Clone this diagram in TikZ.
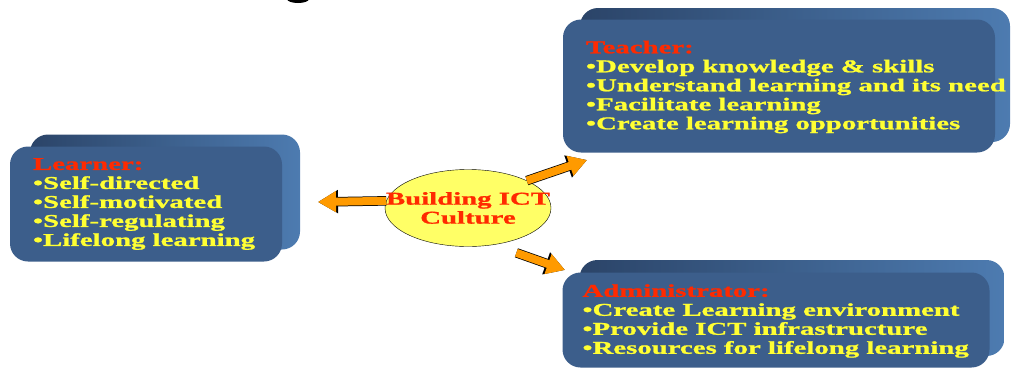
\documentclass[tikz,border=0pt]{standalone}
\usepackage{fontspec}
\newfontfamily\labelfont[FakeStretch=1.6,FakeBold=1.2]{Liberation Serif Bold}
\usepackage{xcolor}
\usetikzlibrary{arrows.meta}
\usetikzlibrary{shapes.geometric}

\definecolor{boxface}{HTML}{3C5E8B}
\definecolor{boxdark}{HTML}{2B4468}
\definecolor{boxlight}{HTML}{4D7BB0}
\definecolor{textyellow}{HTML}{FFFF33}
\definecolor{titlered}{HTML}{FF2A00}
\definecolor{ellipsefill}{HTML}{FFFF66}
\definecolor{arroworange}{HTML}{FF9A00}

\begin{document}
\begin{tikzpicture}[x=1pt,y=-1pt]

\tikzset{
    face/.style = {
    fill=boxface, rounded corners=18pt, inner sep=0pt
    }
}

\tikzstyle{back}=[left color=boxdark, right color=boxlight, rounded corners=18pt, inner sep=0pt]
\tikzstyle{listing}=[font=\labelfont\fontsize{18}{19}\selectfont, text=textyellow, align=left, anchor=west, inner sep=0pt]
\tikzstyle{blockarrow}=[draw=arroworange, line width=8pt, -{Triangle[length=18pt,width=20pt]},
    preaction={draw=black, line width=9.5pt, -{Triangle[length=20pt,width=22pt]}}]

\useasboundingbox (0,0) rectangle (1012,370);

\fill (298,-1) ellipse [x radius=11pt, y radius=4pt];

% boxes
\node (learner-back) [back, minimum width=270pt, minimum height=115pt] at (165,192) {};
\node (learner) [face, minimum width=272pt, minimum height=115pt] at (146,204) {};

\node (teacher-back) [back, minimum width=430pt, minimum height=134pt] at (795,75) {};
\node (teacher) [face, minimum width=432pt, minimum height=133pt] at (779,86) {};

\node (admin-back) [back, minimum width=425pt, minimum height=96pt] at (792,308) {};
\node (admin) [face, minimum width=427pt, minimum height=95pt] at (776,320) {};

\node (learner-txt) [listing] at ([xshift=23pt]learner.west)
    {\textcolor{titlered}{Learner:}\\•Self-directed\\•Self-motivated\\•Self-regulating\\•Lifelong learning};

\node (teacher-txt) [listing] at ([xshift=23pt,yshift=-1pt]teacher.west)
    {\textcolor{titlered}{Teacher:}\\•Develop knowledge \& skills\\•Understand learning and its need\\•Facilitate learning\\•Create learning opportunities};

\node (admin-txt) [listing] at ([xshift=20pt,yshift=-1pt]admin.west)
    {\textcolor{titlered}{Administrator:}\\•Create Learning environment\\•Provide ICT infrastructure\\•Resources for lifelong learning};

% centre
\node (ict) [ellipse, draw, fill=ellipsefill, minimum width=166pt, minimum height=77pt, inner sep=0pt] at (468,208) {};
\node (ict-txt) [font=\labelfont\fontsize{18}{19}\selectfont, text=titlered, align=center, inner sep=0pt] at (ict) {Building ICT\\Culture};

\coordinate (tip-l) at (318,202);
\coordinate (tip-t) at (587,160);
\coordinate (tip-a) at (565,270);

\draw[blockarrow] (ict.175) -- (tip-l);
\draw[blockarrow] (ict.north east) -- (tip-t);
\draw[blockarrow, shorten <=24pt] (ict.-55) -- (tip-a);

\end{tikzpicture}
\end{document}
